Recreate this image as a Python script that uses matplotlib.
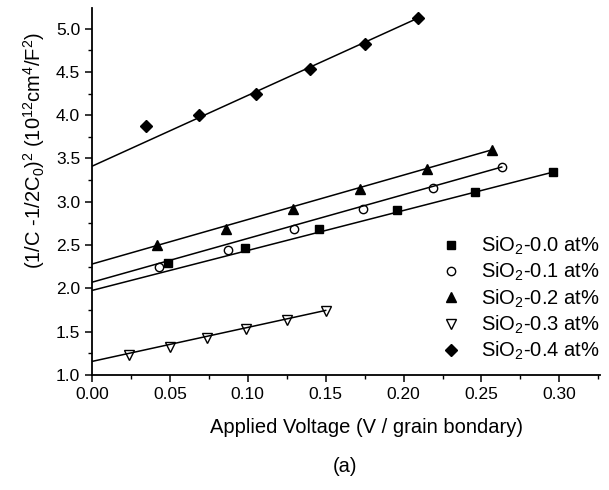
import numpy as np
import matplotlib
matplotlib.use('Agg')
import matplotlib.pyplot as plt
from matplotlib.ticker import MultipleLocator

plt.rcParams['font.family'] = ['Liberation Sans', 'DejaVu Sans']
plt.rcParams['mathtext.default'] = 'regular'

# data
labels = ['SiO$_2$-0.0 at%', 'SiO$_2$-0.1 at%', 'SiO$_2$-0.2 at%',
          'SiO$_2$-0.3 at%', 'SiO$_2$-0.4 at%']
x00 = [0.049, 0.098, 0.146, 0.196, 0.246, 0.296]
y00 = [2.29, 2.46, 2.68, 2.90, 3.11, 3.34]
x01 = [0.043, 0.087, 0.130, 0.174, 0.219, 0.263]
y01 = [2.25, 2.445, 2.68, 2.915, 3.16, 3.40]
x02 = [0.042, 0.086, 0.129, 0.172, 0.215, 0.257]
y02 = [2.50, 2.68, 2.915, 3.15, 3.38, 3.60]
x03 = [0.024, 0.050, 0.074, 0.099, 0.125, 0.150]
y03 = [1.23, 1.32, 1.42, 1.53, 1.635, 1.743]
x04 = [0.035, 0.069, 0.105, 0.140, 0.175, 0.209]
y04 = [3.88, 4.00, 4.245, 4.53, 4.82, 5.12]
# linear fits (intercept, slope)
fit_b = [1.975, 2.07, 2.28, 1.155, 3.41]
fit_m = [4.62, 5.06, 5.14, 3.93, 8.18]

xs = [x00, x01, x02, x03, x04]
ys = [y00, y01, y02, y03, y04]
markers = ['s', 'o', '^', 'v', 'D']
fills = ['k', 'none', 'k', 'none', 'k']
msizes = [6, 6, 7, 7, 6.5]

fig, ax = plt.subplots(figsize=(6.09, 4.9), dpi=100)
fig.subplots_adjust(left=0.151, right=0.985, bottom=0.235, top=0.984)

handles = []
for i in range(5):
    xl = np.array([0.0, xs[i][-1]])
    ax.plot(xl, fit_b[i] + fit_m[i] * xl, color='k', lw=1.1)
    h, = ax.plot(xs[i], ys[i], ls='none', marker=markers[i], ms=msizes[i],
                 mfc=fills[i], mec='k', mew=1.0)
    handles.append(h)

ax.set_xlim(0, 0.326)
ax.set_ylim(1.0, 5.24)
ax.xaxis.set_minor_locator(MultipleLocator(0.025))
ax.yaxis.set_minor_locator(MultipleLocator(0.25))
ax.set_xticks(np.arange(0, 0.31, 0.05))
ax.set_xticklabels(['0.00', '0.05', '0.10', '0.15', '0.20', '0.25', '0.30'])
ax.set_yticks(np.arange(1.0, 5.01, 0.5))
ax.set_yticklabels(['1.0', '1.5', '2.0', '2.5', '3.0', '3.5', '4.0', '4.5', '5.0'])
ax.tick_params(which='major', direction='out', length=5, width=1.1, labelsize=12.5)
ax.tick_params(which='minor', direction='out', length=3, width=1.0)
for s in ['top', 'right']:
    ax.spines[s].set_visible(False)
for s in ['left', 'bottom']:
    ax.spines[s].set_linewidth(1.3)

ax.set_xlabel('Applied Voltage (V / grain bondary)', fontsize=14.5, labelpad=12, x=0.54)
ax.set_ylabel('(1/C -1/2C$_0$)$^2$ (10$^{12}$cm$^4$/F$^2$)', fontsize=14.5, labelpad=6, y=0.61)
fig.text(0.567, 0.048, '(a)', fontsize=14.5, ha='center', va='center')

ax.legend(handles, labels, loc='lower right', bbox_to_anchor=(1.035, -0.015),
          frameon=False, fontsize=14.5, handletextpad=0.9, labelspacing=0.2,
          handlelength=1.2)

plt.savefig('out.png', dpi=100)
